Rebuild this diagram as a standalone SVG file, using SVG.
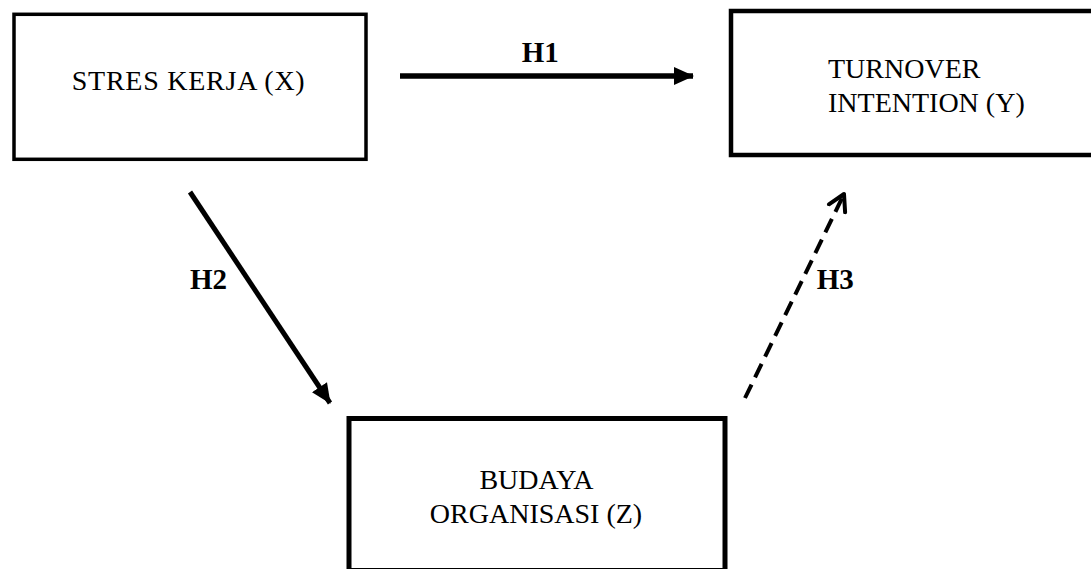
<svg xmlns="http://www.w3.org/2000/svg" width="1091" height="569" viewBox="0 0 1091 569">
<style>
.box{fill:#fff;stroke:#000}
.t{font-family:"Liberation Serif","Times New Roman",serif;font-size:28px;fill:#000}
.lbl{font-family:"Liberation Serif","Times New Roman",serif;font-size:29px;font-weight:bold;fill:#000}
.ln{stroke:#000;fill:none}
</style>
<defs>
<marker id="solid" markerUnits="userSpaceOnUse" markerWidth="22" markerHeight="20" refX="19" refY="10" orient="auto">
<path d="M0,1 L20,10 L0,19 Z" fill="#000"/>
</marker>
<marker id="open" markerUnits="userSpaceOnUse" markerWidth="24" markerHeight="24" refX="18" refY="12" orient="auto">
<path d="M2,3 L18,12 L2,21" fill="none" stroke="#000" stroke-width="4" stroke-linecap="round" stroke-linejoin="round"/>
</marker>
</defs>
<rect width="1091" height="569" fill="#fff"/>
<g id="node-x">
<rect class="box" x="14" y="14.3" width="352" height="145" stroke-width="3.5"/>
<text class="t" x="71.7" y="90" textLength="233" lengthAdjust="spacing">STRES KERJA (X)</text>
</g>
<g id="node-y">
<rect class="box" x="731" y="11" width="380" height="144" stroke-width="4.5"/>
<text class="t" x="828" y="78">TURNOVER</text>
<text class="t" x="828" y="112">INTENTION (Y)</text>
</g>
<g id="node-z">
<rect class="box" x="349" y="418.5" width="376" height="152" stroke-width="5"/>
<text class="t" x="536.5" y="489" text-anchor="middle">BUDAYA</text>
<text class="t" x="536" y="523" text-anchor="middle">ORGANISASI (Z)</text>
</g>
<g id="connectors">
<line class="ln" x1="400" y1="76" x2="693" y2="76" stroke-width="5.5" marker-end="url(#solid)"/>
<line class="ln" x1="190" y1="192" x2="330" y2="403" stroke-width="5" marker-end="url(#solid)"/>
<line class="ln" x1="745" y1="398" x2="844" y2="194" stroke-width="4" stroke-dasharray="15 8" marker-end="url(#open)"/>
<text class="lbl" x="521.7" y="61.7">H1</text>
<text class="lbl" x="190" y="289">H2</text>
<text class="lbl" x="816.7" y="289">H3</text>
</g>
</svg>
